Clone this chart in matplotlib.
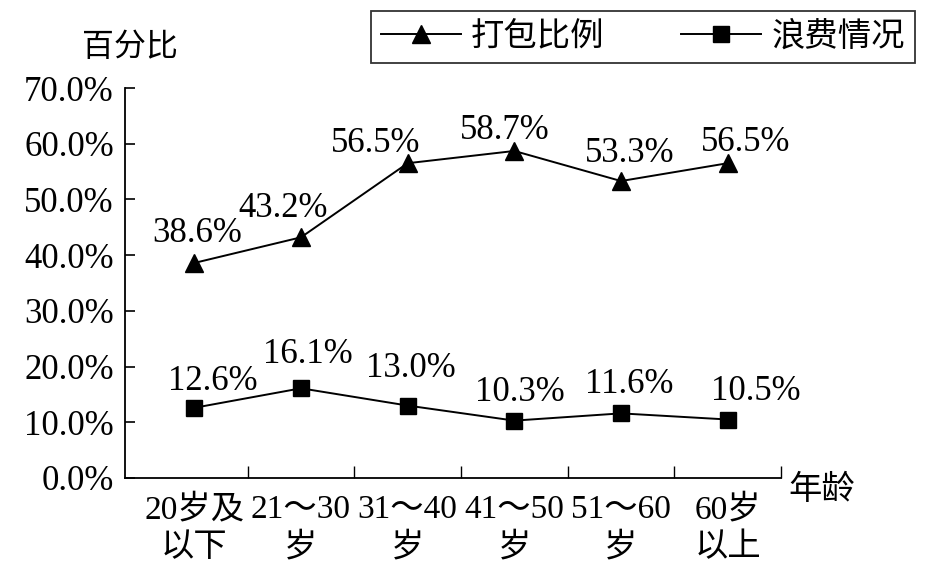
import matplotlib
matplotlib.use("Agg")
from matplotlib import pyplot as plt

plt.rcParams['font.family'] = ['Liberation Serif', 'Noto Sans CJK SC']

categories = ['20岁及\n以下', '21～30\n岁', '31～40\n岁', '41～50\n岁', '51～60\n岁', '60岁\n以上']
dabao = [38.6, 43.2, 56.5, 58.7, 53.3, 56.5]
langfei = [12.6, 16.1, 13.0, 10.3, 11.6, 10.5]
y_ticks = [0, 10, 20, 30, 40, 50, 60, 70]

# label offsets in points (dx, dy)
dabao_off = [(2, 21), (-13, 21), (-23, 14), (-7, 14.5), (6, 19.5), (13, 15)]
langfei_off = [(13, 19), (5, 24), (2, 27), (4, 20.5), (6, 21), (20, 20.5)]

fig = plt.figure(figsize=(9.37, 5.79), dpi=100)
ax = fig.add_axes([125 / 937, 1 - 478 / 579, 656 / 937, 390 / 579])

x = list(range(len(categories)))
l1, = ax.plot(x, dabao, color='black', lw=1.4, marker='^', markersize=13, label='打包比例')
l2, = ax.plot(x, langfei, color='black', lw=1.4, marker='s', markersize=11.5, label='浪费情况')

for i in x:
    ax.annotate(f'{dabao[i]:.1f}%', (x[i], dabao[i]), xytext=dabao_off[i],
                textcoords='offset points', ha='center', va='center', fontsize=25)
    ax.annotate(f'{langfei[i]:.1f}%', (x[i], langfei[i]), xytext=langfei_off[i],
                textcoords='offset points', ha='center', va='center', fontsize=25)

ax.set_xlim(-0.65, 5.5)
ax.set_ylim(0, 70)
ax.set_yticks(y_ticks)
ax.set_yticklabels([f'{v:.1f}%' for v in y_ticks], fontsize=25)
ax.tick_params(axis='y', direction='in', length=7, width=1.2, pad=8)

ax.set_xticks([0.5, 1.5, 2.5, 3.5, 4.5, 5.5])
ax.set_xticklabels([])
ax.tick_params(axis='x', direction='in', length=9, width=1.0)
for i, c in enumerate(categories):
    ax.text(x[i], -3, c, ha='center', va='top', fontsize=24, linespacing=1.3)

ax.spines['top'].set_visible(False)
ax.spines['right'].set_visible(False)
ax.spines['left'].set_linewidth(1.3)
ax.spines['bottom'].set_linewidth(1.3)

fig.text(130 / 937, 1 - 48 / 579, '百分比', ha='center', va='center', fontsize=23)
fig.text(822 / 937, 1 - 490 / 579, '年龄', ha='center', va='center', fontsize=24)

leg = fig.legend(handles=[l1, l2], loc='center', bbox_to_anchor=(643 / 937, 1 - 37 / 579),
                 ncol=2, fontsize=24, frameon=True, fancybox=False, edgecolor='black',
                 handlelength=2.4, columnspacing=2.3, borderpad=0.3, handletextpad=0.3)
leg.get_frame().set_linewidth(1.3)

fig.savefig('out.png', dpi=100)
